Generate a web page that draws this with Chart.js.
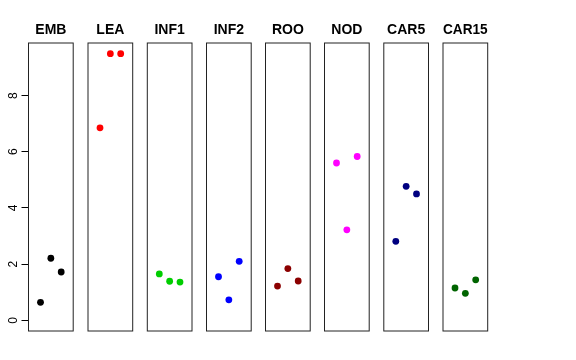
<!DOCTYPE html>
<html><head><meta charset="utf-8">
<script src="https://cdn.jsdelivr.net/npm/chart.js@4"></script>
<style>
html,body{margin:0;padding:0;background:#fff;}
#wrap{position:relative;width:576px;height:360px;}
#wrap canvas{position:absolute;left:0;top:0;}
</style></head><body>
<div id="wrap"></div>
<script>
const categories = ["EMB","LEA","INF1","INF2","ROO","NOD","CAR5","CAR15"];
const xPositions = [1,2,3];
const EMB   = [0.64, 2.21, 1.72];
const LEA   = [6.85, 9.49, 9.49];
const INF1  = [1.65, 1.39, 1.36];
const INF2  = [1.55, 0.73, 2.10];
const ROO   = [1.22, 1.84, 1.40];
const NOD   = [5.60, 3.22, 5.83];
const CAR5  = [2.81, 4.77, 4.50];
const CAR15 = [1.15, 0.96, 1.44];
const seriesValues = [EMB, LEA, INF1, INF2, ROO, NOD, CAR5, CAR15];
const colors = ["#000000","#FF0000","#00CD00","#0000FF","#8B0000","#FF00FF","#000080","#006400"];
const yTicks = [0,2,4,6,8];

const panelLefts = [28.5, 88, 147.3, 206.5, 265.5, 324.5, 383.8, 443];
const panelW = 44.7;
const panelTop = 43, panelBottom = 331;

const framePlugin = {
  id:'frame',
  afterDraw(chart){
    const a = chart.chartArea, ctx = chart.ctx;
    ctx.save();
    ctx.strokeStyle = '#222';
    ctx.lineWidth = 1;
    ctx.strokeRect(a.left, a.top, a.right-a.left, a.bottom-a.top);
    ctx.restore();
  }
};

const wrap = document.getElementById('wrap');
categories.forEach((cat, i) => {
  const c = document.createElement('canvas');
  c.width = 576; c.height = 360;
  c.style.width='576px'; c.style.height='360px';
  wrap.appendChild(c);
  const first = i === 0;
  const left = panelLefts[i];
  new Chart(c, {
    type: 'scatter',
    data: {
      datasets: [{
        data: xPositions.map((x, k) => ({x: x, y: seriesValues[i][k]})),
        backgroundColor: colors[i],
        borderColor: colors[i],
        borderWidth: 0,
        pointRadius: 3.4,
        pointHoverRadius: 3.4
      }]
    },
    options: {
      responsive: false,
      animation: false,
      events: [],
      layout: { padding: { left: first ? 0 : left, right: 576 - left - panelW, top: 0, bottom: 360 - panelBottom } },
      plugins: {
        legend: { display: false },
        tooltip: { enabled: false },
        title: {
          display: true, text: cat, fullSize: false,
          color: '#000',
          font: { family: "'Liberation Sans', Arial, sans-serif", size: 14, weight: 'bold', lineHeight: 1.2 },
          padding: { top: 21.6, bottom: panelTop - 21.6 - 16.8 }
        }
      },
      scales: {
        x: { type: 'linear', display: false, min: -0.16, max: 4.16 },
        y: {
          type: 'linear', display: first, min: -0.38, max: 9.87,
          afterFit(scale){ if (first) scale.width = left; },
          border: { display: false },
          grid: { drawOnChartArea: false, drawTicks: true, tickLength: 7, color: '#000', tickColor: '#000' },
          afterBuildTicks(scale){ scale.ticks = yTicks.map(v => ({value: v})); },
          ticks: {
            includeBounds: false, stepSize: 2, minRotation: 90, maxRotation: 90,
            color: '#000', padding: 8, labelOffset: -3.3,
            font: { family: "'Liberation Sans', Arial, sans-serif", size: 12 },
            callback: v => String(v)
          }
        }
      }
    },
    plugins: [framePlugin]
  });
});
</script>
</body></html>
